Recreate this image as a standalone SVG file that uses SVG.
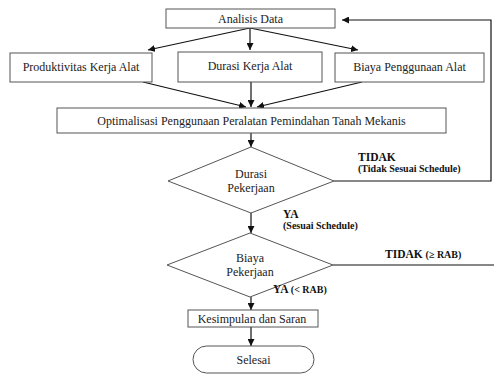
<svg xmlns="http://www.w3.org/2000/svg" width="494" height="376" viewBox="0 0 494 376">
<defs>
<marker id="ah" viewBox="0 0 10 10" refX="10" refY="5" markerWidth="7" markerHeight="7" markerUnits="userSpaceOnUse" orient="auto">
<path d="M0,0 L10,5 L0,10 z" fill="#111"/>
</marker>
<style>
text{font-family:'Liberation Serif','Times New Roman',serif}
.box{fill:#fff;stroke:#555;stroke-width:1}
.t{font-size:12px;fill:#222;text-anchor:middle}
.b{font-weight:bold;font-size:11.5px;fill:#111}
.s{font-size:10px}
.c{fill:none;stroke:#111;stroke-width:1.2}
</style>
</defs>
<rect width="494" height="376" fill="#fff"/>
<g id="connectors">
<line class="c" x1="250" y1="28" x2="148" y2="50" marker-end="url(#ah)"/>
<line class="c" x1="250" y1="28" x2="250" y2="50" marker-end="url(#ah)"/>
<line class="c" x1="250" y1="28" x2="358" y2="50" marker-end="url(#ah)"/>
<line class="c" x1="143" y1="82" x2="246" y2="107" marker-end="url(#ah)"/>
<line class="c" x1="251" y1="82" x2="251" y2="107" marker-end="url(#ah)"/>
<line class="c" x1="362" y1="82" x2="257" y2="107" marker-end="url(#ah)"/>
<line class="c" x1="251" y1="133" x2="251" y2="147" marker-end="url(#ah)"/>
<polyline class="c" points="334,181 491,181 491,20 342,20" marker-end="url(#ah)"/>
<line class="c" x1="251" y1="213" x2="251" y2="233" marker-end="url(#ah)"/>
<line class="c" x1="333" y1="265" x2="494" y2="265"/>
<line class="c" x1="251" y1="297" x2="251" y2="310" marker-end="url(#ah)"/>
<line class="c" x1="251" y1="327" x2="251" y2="346" marker-end="url(#ah)"/>
</g>
<g id="analisis"><rect class="box" x="166" y="9" width="169" height="19"/><text class="t" x="250.5" y="22.5">Analisis Data</text></g>
<g id="produktivitas"><rect class="box" x="10" y="53" width="142" height="29"/><text class="t" x="81" y="71">Produktivitas Kerja Alat</text></g>
<g id="durasi-kerja"><rect class="box" x="178" y="52" width="144" height="30"/><text class="t" x="250" y="70">Durasi Kerja Alat</text></g>
<g id="biaya-penggunaan"><rect class="box" x="335" y="53" width="149" height="29"/><text class="t" x="409.5" y="71">Biaya Penggunaan Alat</text></g>
<g id="optimalisasi"><rect class="box" x="57" y="108" width="389" height="25"/><text class="t" x="251.5" y="124.5">Optimalisasi Penggunaan Peralatan Pemindahan Tanah Mekanis</text></g>
<g id="durasi-pekerjaan"><polygon class="box" points="251,147 334,181 251,213 168,181"/><text class="t" x="251" y="178">Durasi</text><text class="t" x="251" y="192">Pekerjaan</text></g>
<g id="biaya-pekerjaan"><polygon class="box" points="250,233 333,265 250,297 167,265"/><text class="t" x="250" y="262">Biaya</text><text class="t" x="250" y="276">Pekerjaan</text></g>
<g id="kesimpulan"><rect class="box" x="188" y="310" width="130" height="17"/><text class="t" x="252" y="322.5">Kesimpulan dan Saran</text></g>
<g id="selesai"><rect class="box" x="193" y="346" width="121" height="27" rx="13.5"/><text class="t" x="253.5" y="363.5">Selesai</text></g>
<g id="labels">
<text class="b" x="358" y="161">TIDAK</text>
<text class="b s" x="358" y="172">(Tidak Sesuai Schedule)</text>
<text class="b" x="283" y="218">YA</text>
<text class="b s" x="283" y="229">(Sesuai Schedule)</text>
<text class="b" x="385" y="258">TIDAK <tspan class="s">(≥ RAB)</tspan></text>
<text class="b" x="273" y="293">YA <tspan class="s">(&lt; RAB)</tspan></text>
</g>
</svg>
